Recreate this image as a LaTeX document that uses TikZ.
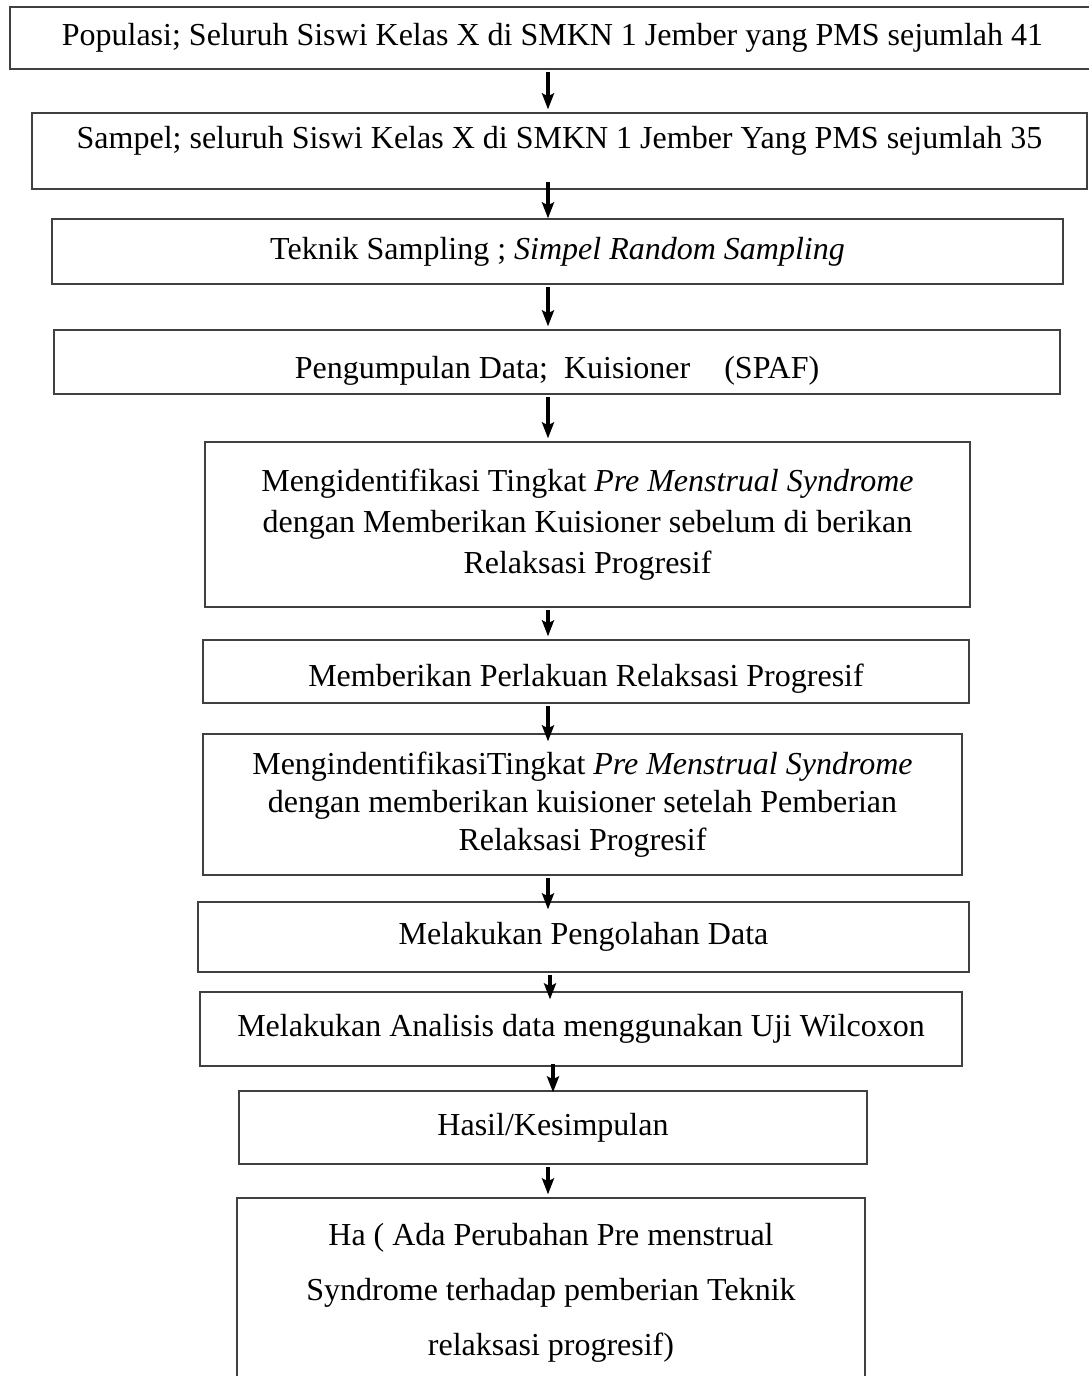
\documentclass[tikz,border=0pt]{standalone}
\usepackage{fontspec}
\setmainfont{Liberation Serif}
\usetikzlibrary{arrows.meta}

\tikzset{
  kotak/.style={draw=black!75, line width=1.3pt, rectangle, align=center, inner sep=0pt, font=\fontsize{32}{41}\selectfont},
  panah/.style={-{Stealth[length=16pt,width=12pt,inset=3pt]}, line width=3.5pt, shorten >=3pt, shorten <=2pt},
  panahmasuk/.style={panah, shorten >=-8pt}
}

\begin{document}
\begin{tikzpicture}[x=1pt,y=-1pt]
\useasboundingbox (0,0) rectangle (1088,1376);
\coordinate (sumbu) at (548,0);

\node[kotak, minimum width=1085pt, minimum height=62pt] (pop) at (552.5,38) {Populasi; Seluruh Siswi Kelas X di SMKN 1 Jember yang PMS sejumlah 41};

\node[kotak, minimum width=1055pt, minimum height=76pt, text depth=27pt] (sampel) at (559.5,151) {Sampel; seluruh Siswi Kelas X di SMKN 1 Jember Yang PMS sejumlah 35};

\node[kotak, minimum width=1011pt, minimum height=65pt] (teknik) at (557.5,251.5) {Teknik Sampling ; \textit{Simpel Random Sampling}};

\node[kotak, minimum width=1006pt, minimum height=64pt, text height=40pt] (data) at (557,362) {Pengumpulan Data;\ \ Kuisioner\hspace{26pt} (SPAF)};

\node[kotak, minimum width=765pt, minimum height=165pt] (pre) at (587.5,524.5) {Mengidentifikasi Tingkat \textit{Pre Menstrual Syndrome}\\ dengan Memberikan Kuisioner sebelum di berikan\\ Relaksasi Progresif};

\node[kotak, minimum width=766pt, minimum height=63pt, text height=36pt] (perlakuan) at (586,671.5) {Memberikan Perlakuan Relaksasi Progresif};

\node[kotak, minimum width=759pt, minimum height=141pt, font=\fontsize{32}{38}\selectfont] (post) at (582.5,804.5) {MengindentifikasiTingkat \textit{Pre Menstrual Syndrome}\\ dengan memberikan kuisioner setelah Pemberian\\ Relaksasi Progresif};

\node[kotak, minimum width=771pt, minimum height=70pt] (olah) at (583.5,937) {Melakukan Pengolahan Data};

\node[kotak, minimum width=762pt, minimum height=74pt] (analisis) at (581,1029) {Melakukan Analisis data menggunakan Uji Wilcoxon};

\node[kotak, minimum width=628pt, minimum height=73pt] (hasil) at (553,1127.5) {Hasil/Kesimpulan};

\node[kotak, minimum width=628pt, minimum height=190pt, font=\fontsize{32}{55}\selectfont] (ha) at (551,1293) {Ha ( Ada Perubahan Pre menstrual\\ Syndrome terhadap pemberian Teknik\\ relaksasi progresif)};

% panah antar kotak
\draw[panah] (pop.south -| sumbu) -- (sampel.north -| sumbu);
\draw[panah, shorten <=-8pt, shorten >=0pt] (sampel.south -| sumbu) -- (teknik.north -| sumbu);
\draw[panah] (teknik.south -| sumbu) -- (data.north -| sumbu);
\draw[panah] (data.south -| sumbu) -- (pre.north -| sumbu);
\draw[panah] (pre.south -| sumbu) -- (perlakuan.north -| sumbu);
\draw[panahmasuk] (perlakuan.south -| sumbu) -- (post.north -| sumbu);
\draw[panahmasuk] (post.south -| sumbu) -- (olah.north -| sumbu);
\draw[panahmasuk] ([xshift=2pt]olah.south -| sumbu) -- ([xshift=2pt]analisis.north -| sumbu);
\draw[panah, shorten <=-3pt, shorten >=-2pt] ([xshift=5pt]analisis.south -| sumbu) -- ([xshift=5pt]hasil.north -| sumbu);
\draw[panah] (hasil.south -| sumbu) -- (ha.north -| sumbu);
\end{tikzpicture}
\end{document}
